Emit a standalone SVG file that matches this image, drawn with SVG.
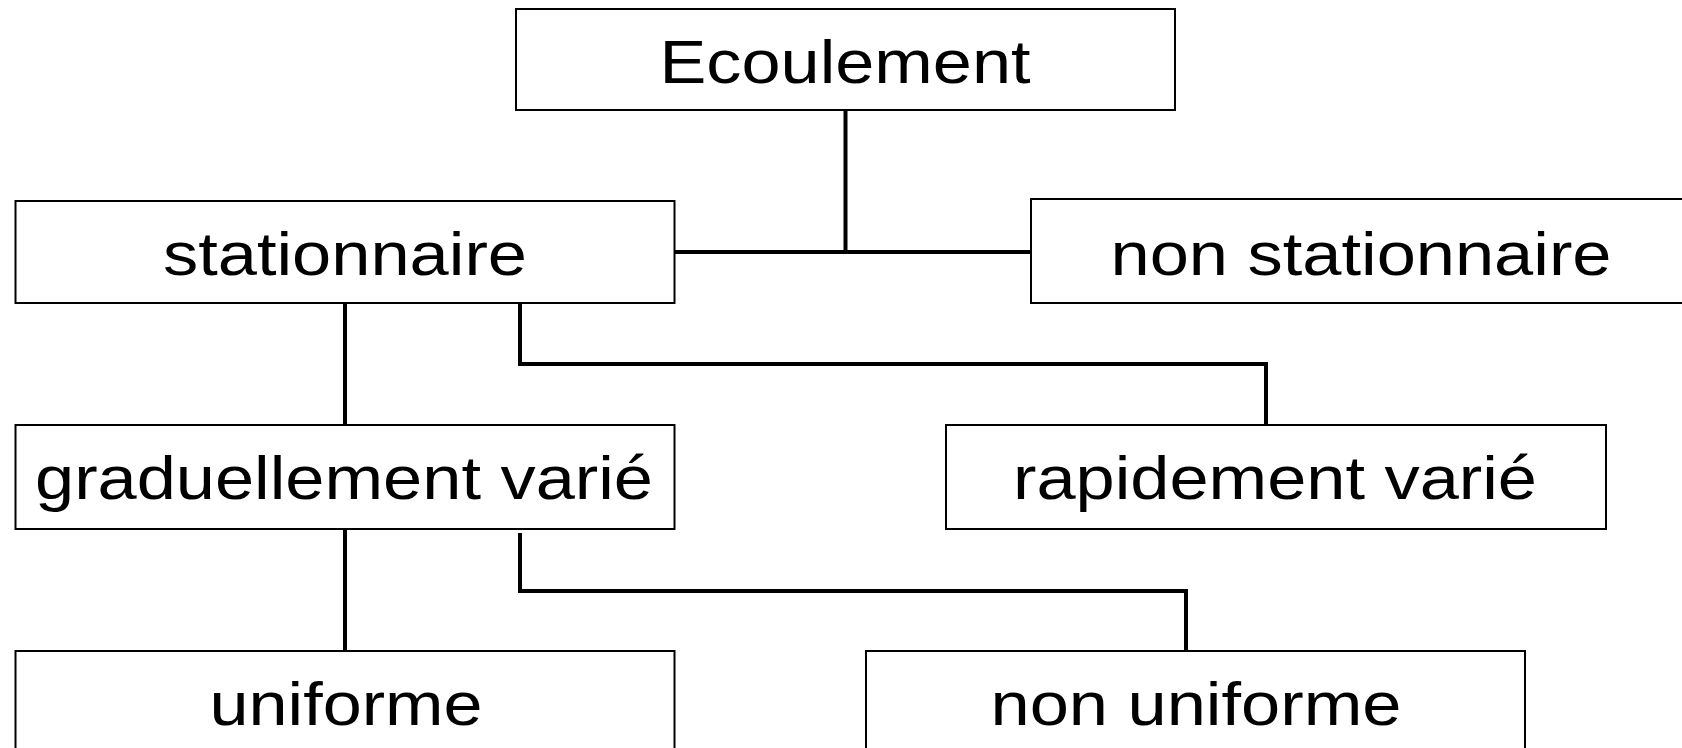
<svg xmlns="http://www.w3.org/2000/svg" width="1682" height="748" viewBox="0 0 1682 748">
<style>
.box{fill:#fff;stroke:#000;stroke-width:2}
.lbl{font-family:"Liberation Sans",Arial,sans-serif;font-size:61px;fill:#000;text-anchor:middle}
.con{fill:none;stroke:#000;stroke-width:4;stroke-linejoin:miter}
</style>
<rect width="1682" height="748" fill="#fff"/>
<g id="connectors">
<path class="con" d="M845.5 110 V252 M675 252 H1031"/>
<path class="con" d="M345 303 V425"/>
<path class="con" d="M520 303 V364 H1266 V425"/>
<path class="con" d="M345 529 V651"/>
<path class="con" d="M520 533 V591 H1186 V652"/>
</g>
<g id="n-ecoulement"><rect class="box" x="516" y="9" width="659" height="101"/><text class="lbl" x="845" y="82.5" textLength="371" lengthAdjust="spacingAndGlyphs">Ecoulement</text></g>
<g id="n-stationnaire"><rect class="box" x="15.5" y="201" width="659" height="102"/><text class="lbl" x="345" y="274.5" textLength="364" lengthAdjust="spacingAndGlyphs">stationnaire</text></g>
<g id="n-non-stationnaire"><rect class="box" x="1031" y="199" width="700" height="104"/><text class="lbl" x="1361" y="274.5" textLength="501" lengthAdjust="spacingAndGlyphs">non stationnaire</text></g>
<g id="n-graduellement"><rect class="box" x="15.5" y="425" width="659" height="104"/><text class="lbl" x="344" y="499" textLength="618" lengthAdjust="spacingAndGlyphs">graduellement varié</text></g>
<g id="n-rapidement"><rect class="box" x="946" y="425" width="660" height="104"/><text class="lbl" x="1275" y="499" textLength="524" lengthAdjust="spacingAndGlyphs">rapidement varié</text></g>
<g id="n-uniforme"><rect class="box" x="15.5" y="651" width="659" height="120"/><text class="lbl" x="346" y="725" textLength="273" lengthAdjust="spacingAndGlyphs">uniforme</text></g>
<g id="n-non-uniforme"><rect class="box" x="866" y="651" width="659" height="120"/><text class="lbl" x="1196" y="725" textLength="411" lengthAdjust="spacingAndGlyphs">non uniforme</text></g>
</svg>
